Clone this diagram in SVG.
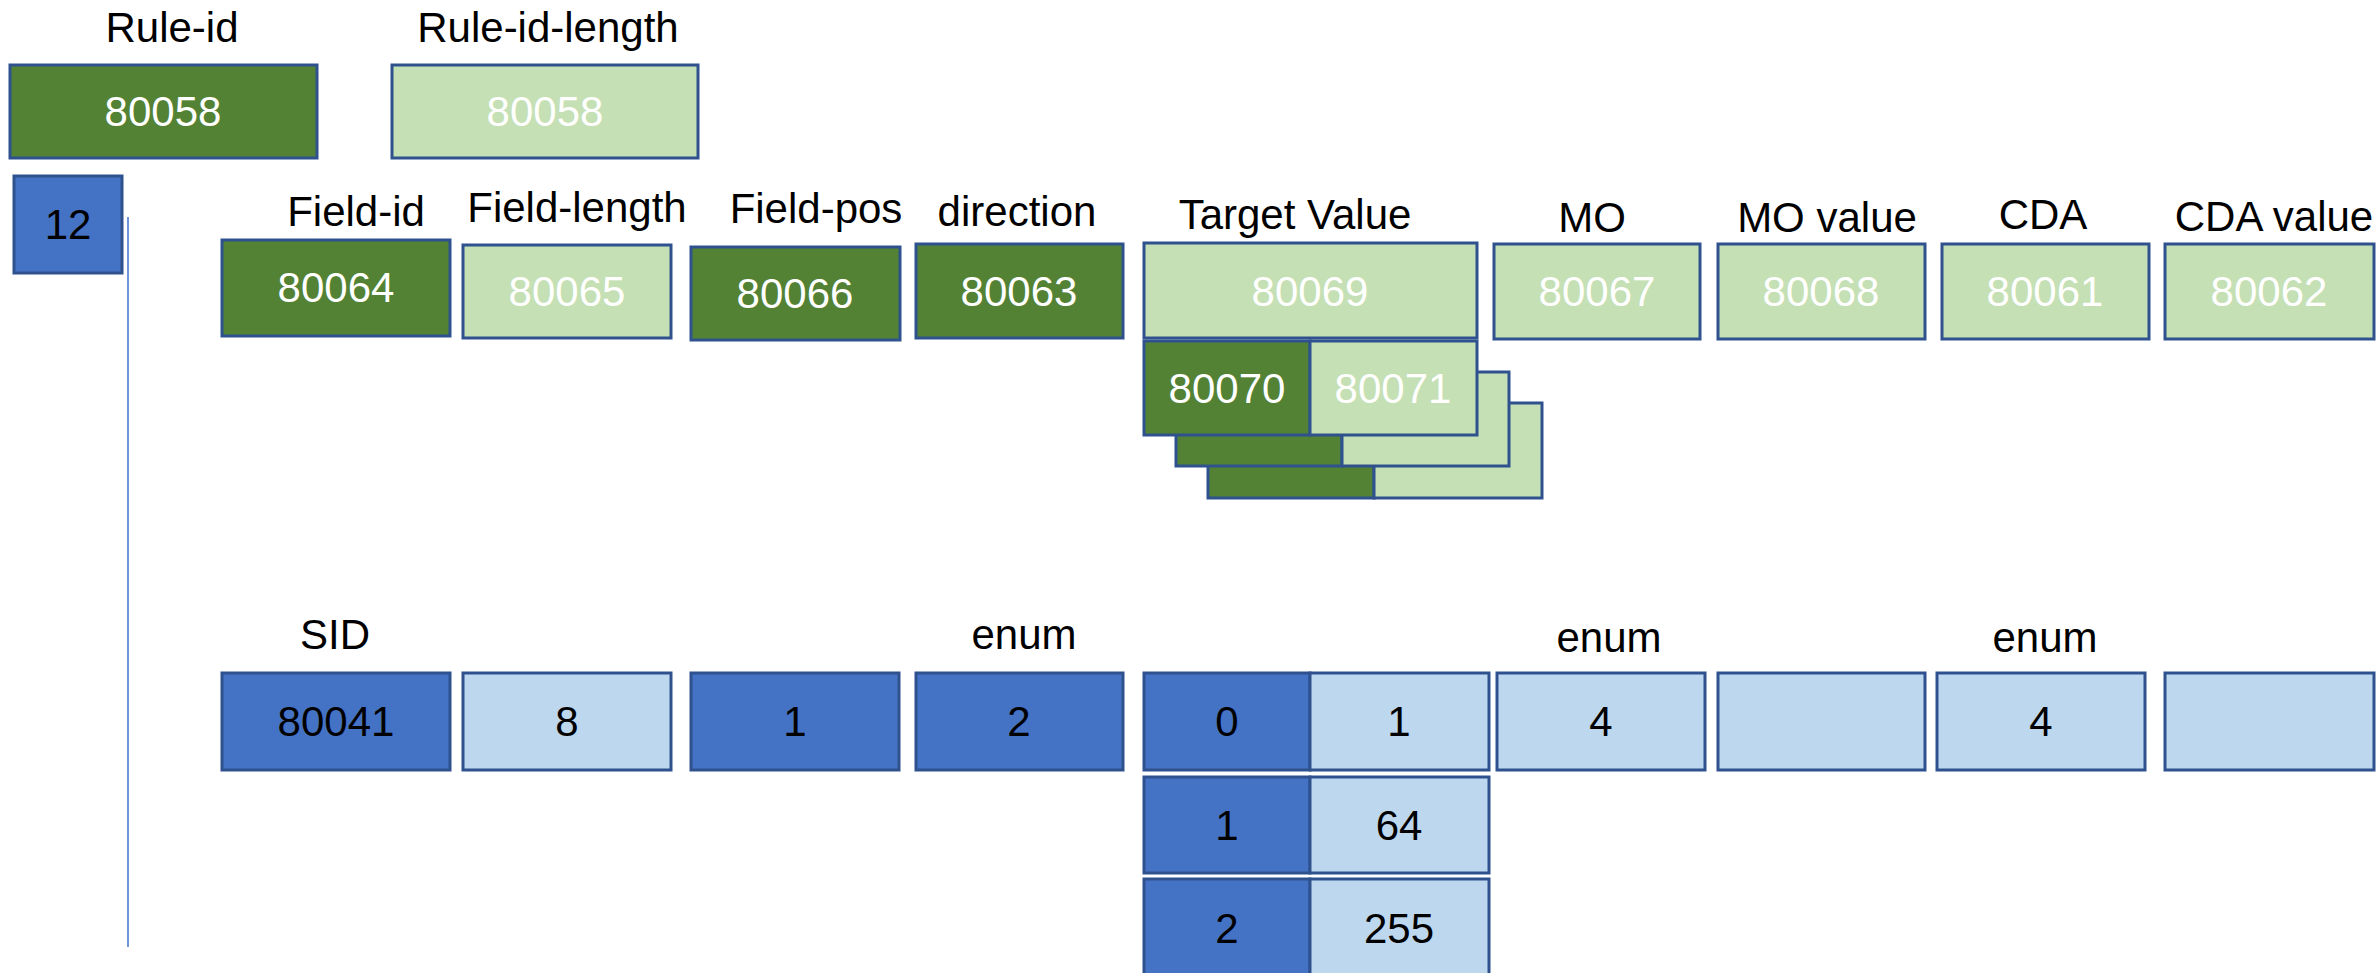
<svg xmlns="http://www.w3.org/2000/svg" width="2379" height="973" viewBox="0 0 2379 973">
  <style>
    text { font-family: "Liberation Sans", Arial, sans-serif; font-size: 42px; text-anchor: middle; }
    .lbl { fill: #000000; }
    .box rect { stroke: #2F528F; stroke-width: 3; }
    .dg { fill: #548235; }
    .lg { fill: #C5E0B4; }
    .db { fill: #4472C4; }
    .lb { fill: #BDD7EE; }
    .wt { fill: #FFFFFF; }
    .bt { fill: #000000; }
  </style>
  <rect width="2379" height="973" fill="#FFFFFF"/>

  <!-- column headings -->
  <g id="labels">
    <text class="lbl" x="172" y="42">Rule-id</text>
    <text class="lbl" x="548" y="42">Rule-id-length</text>
    <text class="lbl" x="356" y="226">Field-id</text>
    <text class="lbl" x="577" y="222">Field-length</text>
    <text class="lbl" x="816" y="223">Field-pos</text>
    <text class="lbl" x="1017" y="226">direction</text>
    <text class="lbl" x="1295" y="229">Target Value</text>
    <text class="lbl" x="1592" y="232">MO</text>
    <text class="lbl" x="1827" y="232">MO value</text>
    <text class="lbl" x="2043" y="229">CDA</text>
    <text class="lbl" x="2274" y="231">CDA value</text>
    <text class="lbl" x="335" y="649">SID</text>
    <text class="lbl" x="1024" y="649">enum</text>
    <text class="lbl" x="1609" y="652">enum</text>
    <text class="lbl" x="2045" y="652">enum</text>
  </g>

  <!-- connectors -->
  <g id="connectors">
    <line x1="128" y1="217" x2="128" y2="947" stroke="#6F95DC" stroke-width="2"/>
  </g>

  <!-- rule header -->
  <g id="rule-id" class="box">
    <rect class="dg" x="10" y="65" width="307" height="93"/>
    <text class="wt" x="163" y="126">80058</text>
  </g>
  <g id="rule-id-length" class="box">
    <rect class="lg" x="392" y="65" width="306" height="93"/>
    <text class="wt" x="545" y="126">80058</text>
  </g>
  <g id="rule-count" class="box">
    <rect class="db" x="14" y="176" width="108" height="97"/>
    <text class="bt" x="68" y="239">12</text>
  </g>

  <!-- field identifiers -->
  <g id="field-id" class="box">
    <rect class="dg" x="222" y="240" width="228" height="96"/>
    <text class="wt" x="336" y="302">80064</text>
  </g>
  <g id="field-length" class="box">
    <rect class="lg" x="463" y="245" width="208" height="93"/>
    <text class="wt" x="567" y="306">80065</text>
  </g>
  <g id="field-pos" class="box">
    <rect class="dg" x="691" y="247" width="209" height="93"/>
    <text class="wt" x="795" y="308">80066</text>
  </g>
  <g id="direction" class="box">
    <rect class="dg" x="916" y="244" width="207" height="94"/>
    <text class="wt" x="1019" y="306">80063</text>
  </g>
  <g id="target-value" class="box">
    <rect class="lg" x="1144" y="243" width="333" height="95"/>
    <text class="wt" x="1310" y="306">80069</text>
  </g>
  <g id="mo" class="box">
    <rect class="lg" x="1494" y="244" width="206" height="95"/>
    <text class="wt" x="1597" y="306">80067</text>
  </g>
  <g id="mo-value" class="box">
    <rect class="lg" x="1718" y="244" width="207" height="95"/>
    <text class="wt" x="1821" y="306">80068</text>
  </g>
  <g id="cda" class="box">
    <rect class="lg" x="1942" y="244" width="207" height="95"/>
    <text class="wt" x="2045" y="306">80061</text>
  </g>
  <g id="cda-value" class="box">
    <rect class="lg" x="2165" y="244" width="209" height="95"/>
    <text class="wt" x="2269" y="306">80062</text>
  </g>

  <!-- target value entries (stacked, back to front) -->
  <g id="tv-entry-3" class="box">
    <rect class="dg" x="1208" y="403" width="166" height="95"/>
    <rect class="lg" x="1374" y="403" width="168" height="95"/>
  </g>
  <g id="tv-entry-2" class="box">
    <rect class="dg" x="1176" y="372" width="166" height="94"/>
    <rect class="lg" x="1342" y="372" width="167" height="94"/>
  </g>
  <g id="tv-entry-1" class="box">
    <rect class="dg" x="1144" y="341" width="166" height="94"/>
    <rect class="lg" x="1310" y="341" width="167" height="94"/>
    <text class="wt" x="1227" y="403">80070</text>
    <text class="wt" x="1393" y="403">80071</text>
  </g>

  <!-- values -->
  <g id="sid" class="box">
    <rect class="db" x="222" y="673" width="228" height="97"/>
    <text class="bt" x="336" y="736">80041</text>
  </g>
  <g id="len-val" class="box">
    <rect class="lb" x="463" y="673" width="208" height="97"/>
    <text class="bt" x="567" y="736">8</text>
  </g>
  <g id="pos-val" class="box">
    <rect class="db" x="691" y="673" width="208" height="97"/>
    <text class="bt" x="795" y="736">1</text>
  </g>
  <g id="dir-val" class="box">
    <rect class="db" x="916" y="673" width="207" height="97"/>
    <text class="bt" x="1019" y="736">2</text>
  </g>
  <g id="tv-row-0" class="box">
    <rect class="db" x="1144" y="673" width="166" height="97"/>
    <rect class="lb" x="1310" y="673" width="179" height="97"/>
    <text class="bt" x="1227" y="736">0</text>
    <text class="bt" x="1399" y="736">1</text>
  </g>
  <g id="tv-row-1" class="box">
    <rect class="db" x="1144" y="777" width="166" height="96"/>
    <rect class="lb" x="1310" y="777" width="179" height="96"/>
    <text class="bt" x="1227" y="840">1</text>
    <text class="bt" x="1399" y="840">64</text>
  </g>
  <g id="tv-row-2" class="box">
    <rect class="db" x="1144" y="879" width="166" height="100"/>
    <rect class="lb" x="1310" y="879" width="179" height="100"/>
    <text class="bt" x="1227" y="943">2</text>
    <text class="bt" x="1399" y="943">255</text>
  </g>
  <g id="mo-val" class="box">
    <rect class="lb" x="1497" y="673" width="208" height="97"/>
    <text class="bt" x="1601" y="736">4</text>
  </g>
  <g id="mo-value-val" class="box">
    <rect class="lb" x="1718" y="673" width="207" height="97"/>
  </g>
  <g id="cda-val" class="box">
    <rect class="lb" x="1937" y="673" width="208" height="97"/>
    <text class="bt" x="2041" y="736">4</text>
  </g>
  <g id="cda-value-val" class="box">
    <rect class="lb" x="2165" y="673" width="209" height="97"/>
  </g>
</svg>
